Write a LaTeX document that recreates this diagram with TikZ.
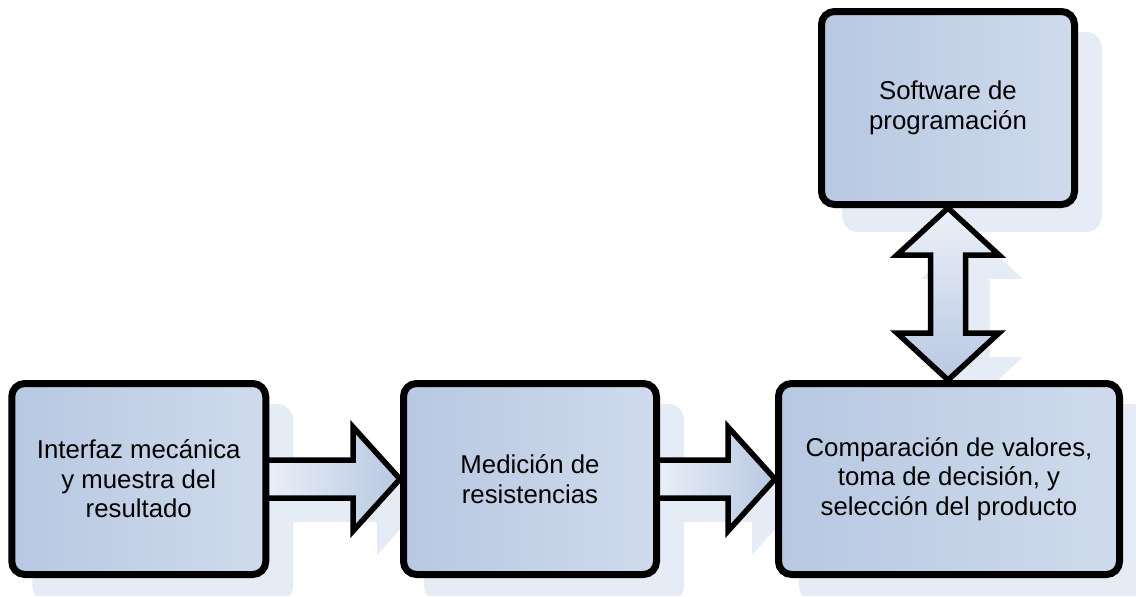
\documentclass[tikz,border=0pt]{standalone}
\usepackage{fontspec}
\setmainfont{Liberation Sans}
\usetikzlibrary{calc}
\definecolor{boxL}{HTML}{B7C8E2}
\definecolor{boxR}{HTML}{CFDBEC}
\definecolor{shc}{HTML}{E6ECF6}
\definecolor{arrL}{HTML}{ECF1F8}
\definecolor{arrR}{HTML}{B7C8E2}
\pgfdeclarelayer{shadowlayer}
\pgfdeclarelayer{arrowlayer}
\pgfsetlayers{shadowlayer,arrowlayer,main}
\tikzset{
  blockbox/.style={draw=black, line width=7pt, rounded corners=13pt,
    left color=boxL, right color=boxR, align=center,
    font=\fontsize{25.8}{29.5}\selectfont, inner sep=0pt},
  shadowfill/.style={fill=shc, rounded corners=16pt},
  harrowstyle/.style={draw=black, line width=5.5pt, line join=miter,
    left color=arrL, right color=arrR},
  varrowstyle/.style={draw=black, line width=5.5pt, line join=miter,
    top color=arrL, bottom color=arrR},
  arrowshadow/.style={fill=shc},
}
% horizontal block arrow: #1 from node, #2 to node, #3 dx, #4 dy, #5 style
\newcommand\myharrow[5]{%
  \path[#5] ($(#1.east)+(-8+#3,-19+#4)$) -- ($(#2.west)+(-47+#3,-19+#4)$)
    -- ($(#2.west)+(-47+#3,-52+#4)$) -- ($(#2.west)+(#3,#4)$)
    -- ($(#2.west)+(-47+#3,52+#4)$) -- ($(#2.west)+(-47+#3,19+#4)$)
    -- ($(#1.east)+(-8+#3,19+#4)$);}
% vertical double block arrow between #1 (top node) and #2 (bottom node)
\newcommand\myvarrow[5]{%
  \coordinate (vt) at (#1.south);
  \coordinate (vb) at (#1.south |- #2.north);
  \path[#5] ($(vt)+(#3,#4)$) -- ($(vt)+(51+#3,47+#4)$) -- ($(vt)+(17.5+#3,47+#4)$)
    -- ($(vb)+(17.5+#3,-47+#4)$) -- ($(vb)+(51+#3,-47+#4)$) -- ($(vb)+(#3,#4)$)
    -- ($(vb)+(-51+#3,-47+#4)$) -- ($(vb)+(-17.5+#3,-47+#4)$)
    -- ($(vt)+(-17.5+#3,47+#4)$) -- ($(vt)+(-51+#3,47+#4)$) -- cycle;}
\begin{document}
\begin{tikzpicture}[x=1pt, y=-1pt]
\useasboundingbox (0,0) rectangle (1136,597);

\node[blockbox, minimum width=254pt, minimum height=191pt] (b1) at (138.75,479)
  {Interfaz mecánica\\y muestra del\\resultado};
\node[blockbox, minimum width=253pt, minimum height=191pt] (b2) at (530,479)
  {Medición de\\resistencias};
\node[blockbox, minimum width=341pt, minimum height=191pt] (b3) at (949,479)
  {Comparación de valores,\\toma de decisión, y\\selección del producto};
\node[blockbox, minimum width=253pt, minimum height=193pt] (b4) at (948,108)
  {Software de\\programación};

\begin{pgfonlayer}{shadowlayer}
  \begin{scope}
  \clip (0,0) rectangle (1136,595);
  \foreach \b in {b1,b2,b3,b4}{
    \path[shadowfill] ([shift={(24,24)}]\b.north west) rectangle ([shift={(24,24)}]\b.south east);
  }
  \myharrow{b1}{b2}{24}{24}{arrowshadow}
  \myharrow{b2}{b3}{24}{24}{arrowshadow}
  \myvarrow{b4}{b3}{24}{24}{arrowshadow}
  \end{scope}
\end{pgfonlayer}

\begin{pgfonlayer}{arrowlayer}
  \myharrow{b1}{b2}{0}{0}{harrowstyle}
  \myharrow{b2}{b3}{0}{0}{harrowstyle}
  \myvarrow{b4}{b3}{0}{0}{varrowstyle}
\end{pgfonlayer}
\end{tikzpicture}
\end{document}
